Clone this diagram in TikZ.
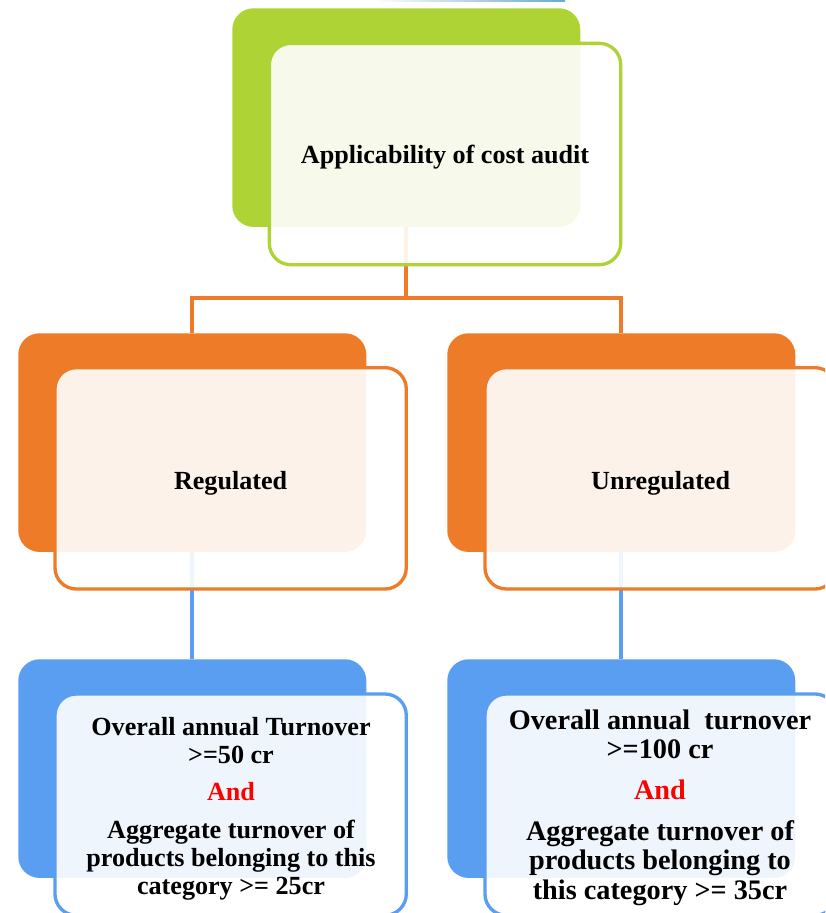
\documentclass[tikz,border=0pt]{standalone}
\usepackage{fontspec}
\setmainfont{Liberation Serif}
\pgfdeclarelayer{bg}
\pgfsetlayers{bg,main}
\definecolor{leaf}{HTML}{AED334}
\definecolor{amber}{HTML}{EE7B28}
\definecolor{sky}{HTML}{5A9EF2}
\definecolor{capline}{HTML}{6AAAC8}
\tikzset{
  backbox/.style={rectangle, rounded corners=16pt, inner sep=0pt,
    minimum width=261pt, minimum height=164pt, anchor=north west},
  frontbox/.style={rectangle, rounded corners=16pt, inner sep=0pt,
    minimum width=263.5pt, minimum height=166pt, anchor=north west,
    line width=2.5pt, fill=white, fill opacity=0.9},
  lbl/.style={font=\bfseries\fontsize{19.6}{21}\selectfont, align=center, inner sep=0pt},
  lblr/.style={font=\bfseries\fontsize{21.2}{22}\selectfont, align=center, inner sep=0pt},
  oline/.style={draw=amber, line width=3pt},
  bline/.style={draw=sky, line width=3pt},
}
\begin{document}
\begin{tikzpicture}[x=0.75pt, y=-0.75pt]
\useasboundingbox (0,0) rectangle (825,913);
\clip (0,0) rectangle (825,913);

% thin shaded strip along the top edge
\shade[left color=white, right color=capline] (373,0) rectangle (565,1.5);

% back panels
\node[backbox, fill=leaf]  (topB) at (232,8)   {};
\node[backbox, fill=amber] (regB) at (18,333)  {};
\node[backbox, fill=amber] (unrB) at (447,333) {};
\node[backbox, fill=sky]   (rcB)  at (18,659)  {};
\node[backbox, fill=sky]   (ucB)  at (447,659) {};

% front panels (anchored at the outer edge of their outline)
\node[frontbox, draw=leaf]  (topF) at (267.7,41.7) {};
\node[frontbox, draw=amber] (regF) at (53.3,366)   {};
\node[frontbox, draw=amber] (unrF) at (483.3,366)  {};
\node[frontbox, draw=sky]   (rcF)  at (53.3,692.3) {};
\node[frontbox, draw=sky]   (ucF)  at (483.3,692.3) {};

% labels
\node[lbl] (topT) at ([yshift=-2.5pt]topF.center) {Applicability of cost audit};
\node[lbl] (regT) at ([yshift=-3.5pt]regF.center) {Regulated};
\node[lbl] (unrT) at ([yshift=-3.5pt]unrF.center) {Unregulated};

\node[lbl] (rc1) at (231,741) {Overall annual Turnover\\>=50 cr};
\node[lbl, text=red] (rc2) at (231,792) {And};
\node[lbl] (rc3) at (231,860) {Aggregate turnover of\\products belonging to this\\category >= 25cr};

\node[lblr] (uc1) at (660,734) {Overall annual\ \ turnover\\>=100 cr};
\node[lblr, text=red] (uc2) at (660,790) {And};
\node[lblr] (uc3) at (660,863) {Aggregate turnover of\\products belonging to\\this category >= 35cr};

% connectors, kept under the panels
\begin{pgfonlayer}{bg}
  \coordinate (bus) at (topB.south |- 0,298);
  \draw[oline] (topB.south) -- (bus);
  \draw[oline] (regB.north) |- (bus) -| (unrB.north);
  \draw[bline] (regB.south) -- (rcB.north);
  \draw[bline] (unrB.south) -- (ucB.north);
\end{pgfonlayer}
\end{tikzpicture}
\end{document}
